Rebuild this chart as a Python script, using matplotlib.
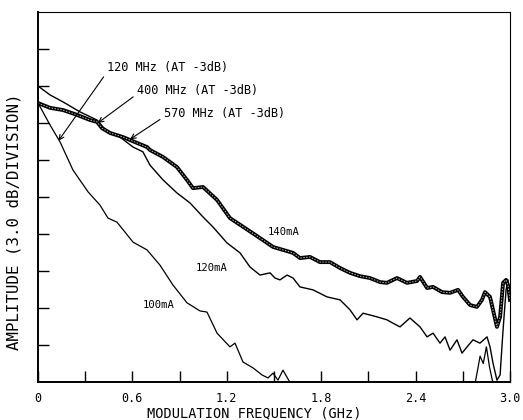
import matplotlib
matplotlib.use("Agg")
import matplotlib.pyplot as plt

# ---- data (x in GHz, y in divisions of 3 dB) ----
f_100 = [0, 0.076, 0.14, 0.222, 0.318, 0.394, 0.445, 0.502, 0.604, 0.693, 0.775,
         0.858, 0.947, 1.03, 1.074, 1.138, 1.22, 1.252, 1.303, 1.367, 1.424, 1.462,
         1.494, 1.525, 1.557, 1.60, 1.665, 2.75, 2.78, 2.81, 2.83, 2.85, 2.87, 2.89, 3.0]
a_100 = [7.54, 6.95, 6.49, 5.73, 5.14, 4.78, 4.43, 4.32, 3.78, 3.57, 3.16,
         2.62, 2.14, 1.92, 1.89, 1.32, 0.95, 1.05, 0.54, 0.38, 0.19, 0.11,
         0.24, 0.05, 0.32, 0.0, 0.0, 0.0, 0.0, 0.7, 0.5, 0.95, 0.4, 0.0, 0.0]

f_120 = [0, 0.076, 0.159, 0.267, 0.375, 0.439, 0.521, 0.604, 0.667, 0.712, 0.795,
         0.883, 0.966, 1.049, 1.112, 1.201, 1.284, 1.347, 1.411, 1.475, 1.506, 1.538,
         1.583, 1.621, 1.665, 1.748, 1.837, 1.920, 1.983, 2.028, 2.066, 2.155, 2.218,
         2.256, 2.301, 2.364, 2.428, 2.473, 2.511, 2.555, 2.587, 2.619, 2.663, 2.695,
         2.727, 2.765, 2.809, 2.854, 2.873, 2.892, 2.917, 2.937, 2.956, 2.975, 2.987, 3.0]
a_120 = [8.0, 7.76, 7.57, 7.30, 7.08, 6.76, 6.62, 6.35, 6.22, 5.86, 5.46,
         5.11, 4.84, 4.46, 4.19, 3.76, 3.49, 3.11, 2.89, 2.95, 2.81, 2.76,
         2.89, 2.81, 2.57, 2.49, 2.30, 2.22, 1.95, 1.68, 1.86, 1.76, 1.68,
         1.59, 1.49, 1.73, 1.49, 1.22, 1.32, 1.05, 1.22, 0.86, 1.14, 0.78,
         0.95, 1.14, 1.05, 1.22, 0.95, 0.51, 0.05, 0.19, 1.41, 2.49, 2.76, 2.22]

f_140 = [0, 0.076, 0.159, 0.248, 0.331, 0.375, 0.407, 0.458, 0.540, 0.585, 0.693,
         0.712, 0.795, 0.883, 0.947, 0.985, 1.049, 1.138, 1.220, 1.316, 1.411, 1.494,
         1.557, 1.621, 1.665, 1.729, 1.792, 1.856, 1.920, 1.983, 2.047, 2.110, 2.174,
         2.218, 2.282, 2.345, 2.409, 2.428, 2.473, 2.511, 2.568, 2.619, 2.670, 2.701,
         2.746, 2.790, 2.822, 2.841, 2.873, 2.892, 2.917, 2.937, 2.956, 2.975, 2.987, 3.0]
a_140 = [7.54, 7.41, 7.35, 7.22, 7.08, 7.03, 6.86, 6.73, 6.62, 6.54, 6.35,
         6.27, 6.08, 5.81, 5.46, 5.24, 5.27, 4.92, 4.43, 4.16, 3.89, 3.65,
         3.57, 3.49, 3.35, 3.38, 3.24, 3.24, 3.08, 2.95, 2.86, 2.81, 2.70,
         2.68, 2.81, 2.68, 2.73, 2.84, 2.54, 2.57, 2.43, 2.41, 2.49, 2.30,
         2.08, 2.03, 2.22, 2.43, 2.30, 1.95, 1.49, 1.76, 2.68, 2.76, 2.62, 2.22]

x_ticks = [0, 0.3, 0.6, 0.9, 1.2, 1.5, 1.8, 2.1, 2.4, 2.7, 3.0]
x_labels = ["0", "", "0.6", "", "1.2", "", "1.8", "", "2.4", "", "3.0"]
y_ticks = [1, 2, 3, 4, 5, 6, 7, 8, 9]

# (label, arrow target GHz, div, text position GHz, div)
cutoffs = [("120 MHz (AT -3dB)", 0.13, 6.52, 0.44, 8.49),
           ("400 MHz (AT -3dB)", 0.38, 7.00, 0.63, 7.89),
           ("570 MHz (AT -3dB)", 0.585, 6.56, 0.80, 7.27)]
curve_labels = [("140mA", 1.564, 4.05), ("120mA", 1.106, 3.08), ("100mA", 0.769, 2.08)]

mono = "DejaVu Sans Mono"

fig = plt.figure(figsize=(5.23, 4.20), dpi=100)
ax = fig.add_axes([38 / 523, 38 / 420, 472 / 523, 370 / 420])

ax.plot(f_100, a_100, color="black", lw=0.9)
ax.plot(f_120, a_120, color="black", lw=1.0)
# thick "double" trace for the highest bias
ax.plot(f_140, a_140, color="black", lw=2.8, solid_joinstyle="round")
ax.plot(f_140, a_140, color="#bbbbbb", lw=0.7, dashes=(1.5, 1.5))

for txt, xa, ya, xt, yt in cutoffs:
    ax.annotate(txt, xy=(xa, ya), xytext=(xt, yt), fontsize=8.6, family=mono,
                ha="left", va="center",
                arrowprops=dict(arrowstyle="->", lw=0.8, color="black",
                                relpos=(0, 0.2), shrinkA=1, shrinkB=0))

for txt, xt, yt in curve_labels:
    ax.text(xt, yt, txt, fontsize=7.6, family=mono, ha="center", va="center")

ax.set_xlim(0, 3.0)
ax.set_ylim(0, 10)
ax.set_xticks(x_ticks)
ax.set_xticklabels(x_labels, family=mono, fontsize=8.5)
ax.set_yticks(y_ticks)
ax.set_yticklabels([])
ax.tick_params(axis="both", direction="in", length=8, width=1.0, pad=7)

for side in ["left", "bottom"]:
    ax.spines[side].set_linewidth(1.4)
for side in ["top", "right"]:
    ax.spines[side].set_linewidth(0.8)

ax.set_xlabel("MODULATION FREQUENCY (GHz)", family=mono, fontsize=9.8)
ax.xaxis.set_label_coords(0.458, -0.066)
ax.set_ylabel("AMPLITUDE (3.0 dB/DIVISION)", family=mono, fontsize=11.3)
ax.yaxis.set_label_coords(-0.036, 0.432)

fig.savefig("out.png", dpi=100)
